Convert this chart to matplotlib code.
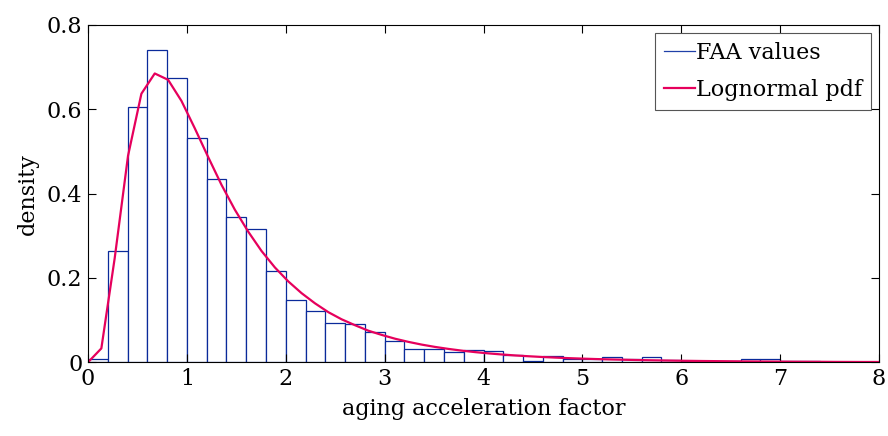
import numpy as np
import matplotlib
matplotlib.use("Agg")
import matplotlib.pyplot as plt
from matplotlib.lines import Line2D
from matplotlib.ticker import FuncFormatter

# histogram of FAA values, bins of width 0.2 from 0 to 8
bin_edges = np.linspace(0, 8, 41)
faa_density = [0.008, 0.265, 0.606, 0.740, 0.675, 0.533, 0.434, 0.344, 0.315, 0.217,
               0.148, 0.121, 0.094, 0.092, 0.073, 0.050, 0.032, 0.032, 0.024, 0.030,
               0.028, 0.017, 0.004, 0.014, 0.009, 0.008, 0.012, 0.007, 0.012, 0.006,
               0.003, 0.002, 0.003, 0.007, 0.009, 0.002, 0.002, 0.001, 0.0, 0.0]

# fitted lognormal pdf, sampled on a grid of step 0.135
pdf_x = np.arange(61) * 0.135
pdf_y = [0.0, 0.033, 0.247, 0.490, 0.637, 0.685, 0.670, 0.620, 0.555, 0.487,
         0.421, 0.362, 0.310, 0.264, 0.225, 0.192, 0.164, 0.140, 0.119, 0.102,
         0.088, 0.075, 0.065, 0.056, 0.0485, 0.042, 0.0365, 0.0318, 0.0277, 0.0242,
         0.0212, 0.0186, 0.0163, 0.0144, 0.0127, 0.0112, 0.0099, 0.0088, 0.0078, 0.0069,
         0.0062, 0.0055, 0.0049, 0.0044, 0.0039, 0.0035, 0.0031, 0.0028, 0.0025, 0.0022,
         0.0020, 0.0018, 0.0016, 0.0014, 0.0013, 0.0012, 0.0010, 0.0009, 0.0008, 0.0008,
         0.0007]

bar_color = "#0a2a9a"
pdf_color = "#e6005c"

plt.rcParams["font.family"] = ["DejaVu Serif"]
plt.rcParams["font.size"] = 16

fig = plt.figure(figsize=(8.88, 4.36), dpi=100)
ax = fig.add_axes([0.0991, 0.169, 0.8908, 0.7737])

ax.bar(bin_edges[:-1], faa_density, width=np.diff(bin_edges), align="edge",
       facecolor="white", edgecolor=bar_color, linewidth=0.9)
ax.plot(pdf_x, pdf_y, color=pdf_color, linewidth=1.6)

ax.set_xlim(0, 8)
ax.set_ylim(0, 0.8)
ax.set_xticks(range(0, 9))
ax.set_yticks([0, 0.2, 0.4, 0.6, 0.8])
ax.yaxis.set_major_formatter(FuncFormatter(lambda v, p: f"{v:g}"))
ax.tick_params(direction="in", length=5.8, width=0.8, top=True, right=True,
               labelsize=16, pad=4)
for s in ax.spines.values():
    s.set_linewidth(0.8)

ax.set_xlabel("aging acceleration factor", fontsize=16, labelpad=6)
ax.set_ylabel("density", fontsize=16, labelpad=6)

handles = [Line2D([], [], color="#2040a8", linewidth=0.9),
           Line2D([], [], color=pdf_color, linewidth=1.6)]
leg = ax.legend(handles, ["FAA values", "Lognormal pdf"], loc="upper right",
                fancybox=False, edgecolor="#555555", framealpha=1,
                handlelength=1.4, handletextpad=0.05, borderpad=0.4,
                labelspacing=0.7, borderaxespad=0.35, fontsize=16)
leg.get_frame().set_linewidth(0.8)

fig.savefig("out.png", dpi=100)
